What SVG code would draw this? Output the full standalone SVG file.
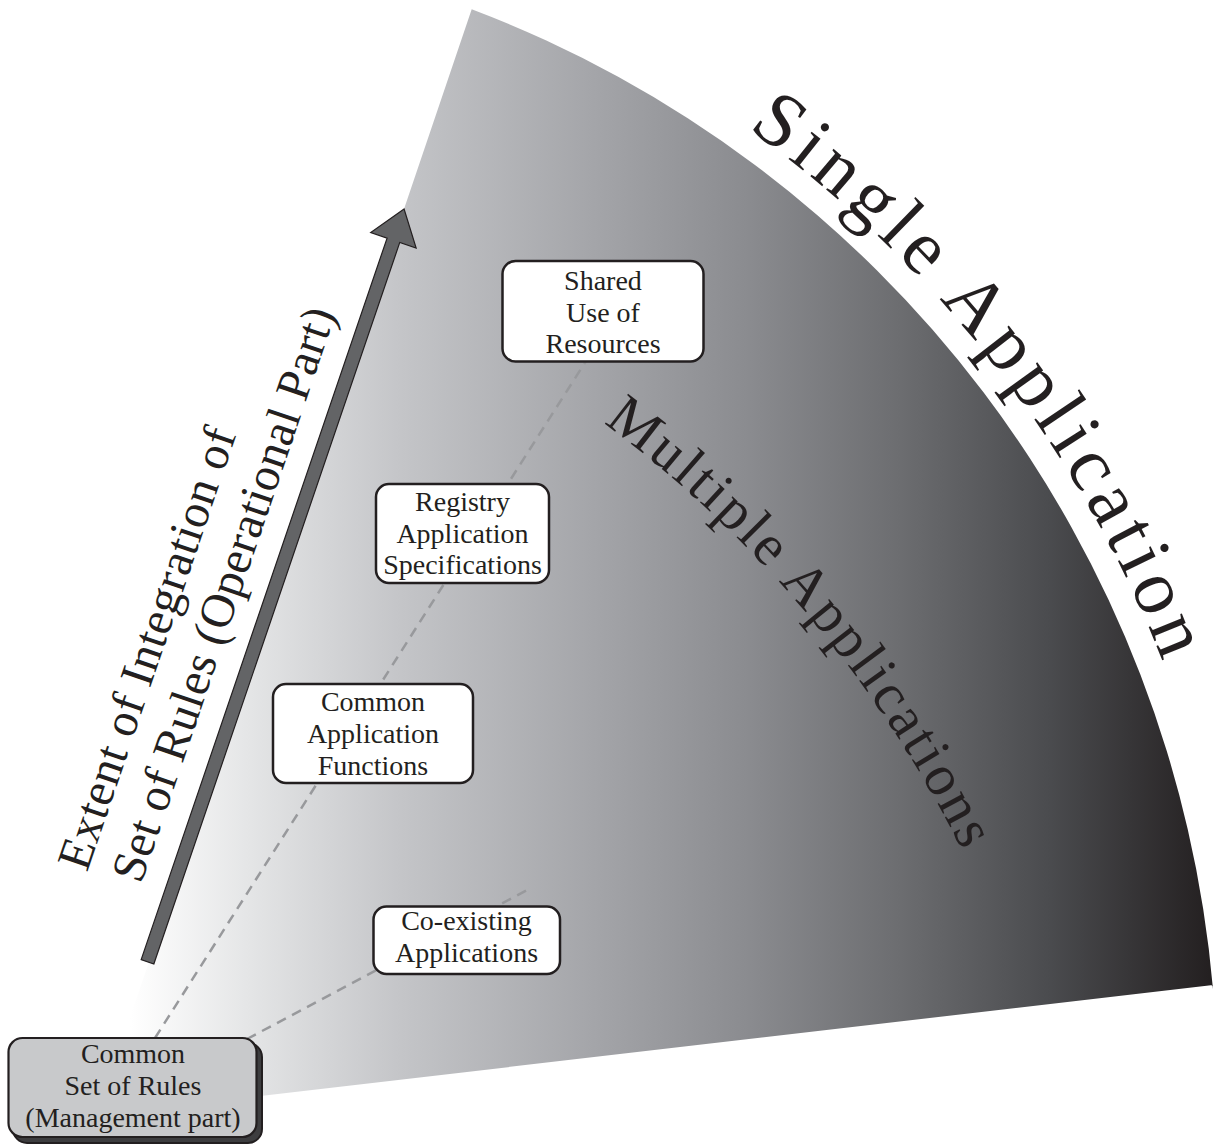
<svg xmlns="http://www.w3.org/2000/svg" width="1213" height="1147" viewBox="0 0 1213 1147">
  <defs>
    <linearGradient id="fanShade" gradientUnits="userSpaceOnUse" x1="100" y1="0" x2="1213" y2="0">
      <stop offset="0.027" stop-color="#ffffff"/>
      <stop offset="0.135" stop-color="#e4e5e6"/>
      <stop offset="0.27" stop-color="#c4c5c8"/>
      <stop offset="0.449" stop-color="#a3a4a8"/>
      <stop offset="0.584" stop-color="#8a8b8f"/>
      <stop offset="0.719" stop-color="#6c6d70"/>
      <stop offset="0.854" stop-color="#4a4b4e"/>
      <stop offset="1" stop-color="#231f20"/>
    </linearGradient>
    <!-- baselines for the curved headings -->
    <path id="outerArc" d="M 616.8 47.6 A 1180 1180 0 0 1 1224.9 884.5"/>
    <path id="innerArc" d="M 492 350.1 A 1188 1188 0 0 1 1045.5 1071.5"/>
  </defs>
  <style>
    .serif { font-family: "Liberation Serif", "DejaVu Serif", serif; fill: #231f20; }
    .box { fill: #ffffff; stroke: #231f20; stroke-width: 2.5; }
    .label { font-size: 28px; text-anchor: middle; }
    .link { fill: none; stroke: #98999c; stroke-width: 2.5; stroke-dasharray: 10 7; }
  </style>

  <!-- shaded fan -->
  <path id="fan" d="M 97 1115 L 471.7 9.3 A 1154.5 1154.5 0 0 1 1213 989 L 1213 985 Z" fill="url(#fanShade)"/>

  <!-- curved headings -->
  <text class="serif" font-size="78" letter-spacing="6">
    <textPath href="#outerArc" startOffset="154">Single Application</textPath>
  </text>
  <text class="serif" font-size="58" letter-spacing="2.8">
    <textPath href="#innerArc" startOffset="133">Multiple Applications</textPath>
  </text>

  <!-- axis label and arrow, drawn in the arrow's rotated frame -->
  <g id="axis" transform="rotate(-71.18)">
    <text class="serif" font-size="48" letter-spacing="0.5" x="-798" y="364">Extent of Integration of</text>
    <text class="serif" font-size="48" letter-spacing="0.3" x="-792" y="419">Set of Rules (Operational Part)</text>
    <polygon points="-862.8,443.2 -100.5,443.2 -100.5,425.9 -67.5,449.9 -100.5,473.9 -100.5,456.6 -862.8,456.6" fill="#636466" stroke="#231f20" stroke-width="1.2" stroke-linejoin="miter"/>
  </g>

  <!-- connectors -->
  <g id="connectors">
    <line class="link" x1="155" y1="1038" x2="586" y2="361"/>
    <line class="link" x1="247" y1="1039" x2="531" y2="888"/>
  </g>

  <!-- nodes -->
  <g id="shared-use">
    <rect class="box" x="502.5" y="261" width="201" height="100.5" rx="13"/>
    <text class="serif label" x="603" y="290">Shared</text>
    <text class="serif label" x="603" y="321.5">Use of</text>
    <text class="serif label" x="603" y="353">Resources</text>
  </g>
  <g id="registry">
    <rect class="box" x="376" y="484" width="173" height="99" rx="13"/>
    <text class="serif label" x="462.5" y="511">Registry</text>
    <text class="serif label" x="462.5" y="543">Application</text>
    <text class="serif label" x="462.5" y="574">Specifications</text>
  </g>
  <g id="common-functions">
    <rect class="box" x="273" y="684" width="200" height="99" rx="13"/>
    <text class="serif label" x="373" y="711">Common</text>
    <text class="serif label" x="373" y="743">Application</text>
    <text class="serif label" x="373" y="775">Functions</text>
  </g>
  <g id="co-existing">
    <rect class="box" x="373.5" y="906.5" width="186.5" height="67.5" rx="13"/>
    <text class="serif label" x="466.5" y="930">Co-existing</text>
    <text class="serif label" x="466.5" y="962">Applications</text>
  </g>
  <g id="common-rules">
    <rect x="13" y="1043" width="249" height="100" rx="14" fill="#3d3d3f" stroke="#231f20" stroke-width="2"/>
    <rect x="8.5" y="1038" width="248" height="99" rx="14" fill="#c8c9cb" stroke="#231f20" stroke-width="2.2"/>
    <text class="serif label" x="133" y="1063">Common</text>
    <text class="serif label" x="133" y="1095">Set of Rules</text>
    <text class="serif label" x="133" y="1127">(Management part)</text>
  </g>
</svg>
